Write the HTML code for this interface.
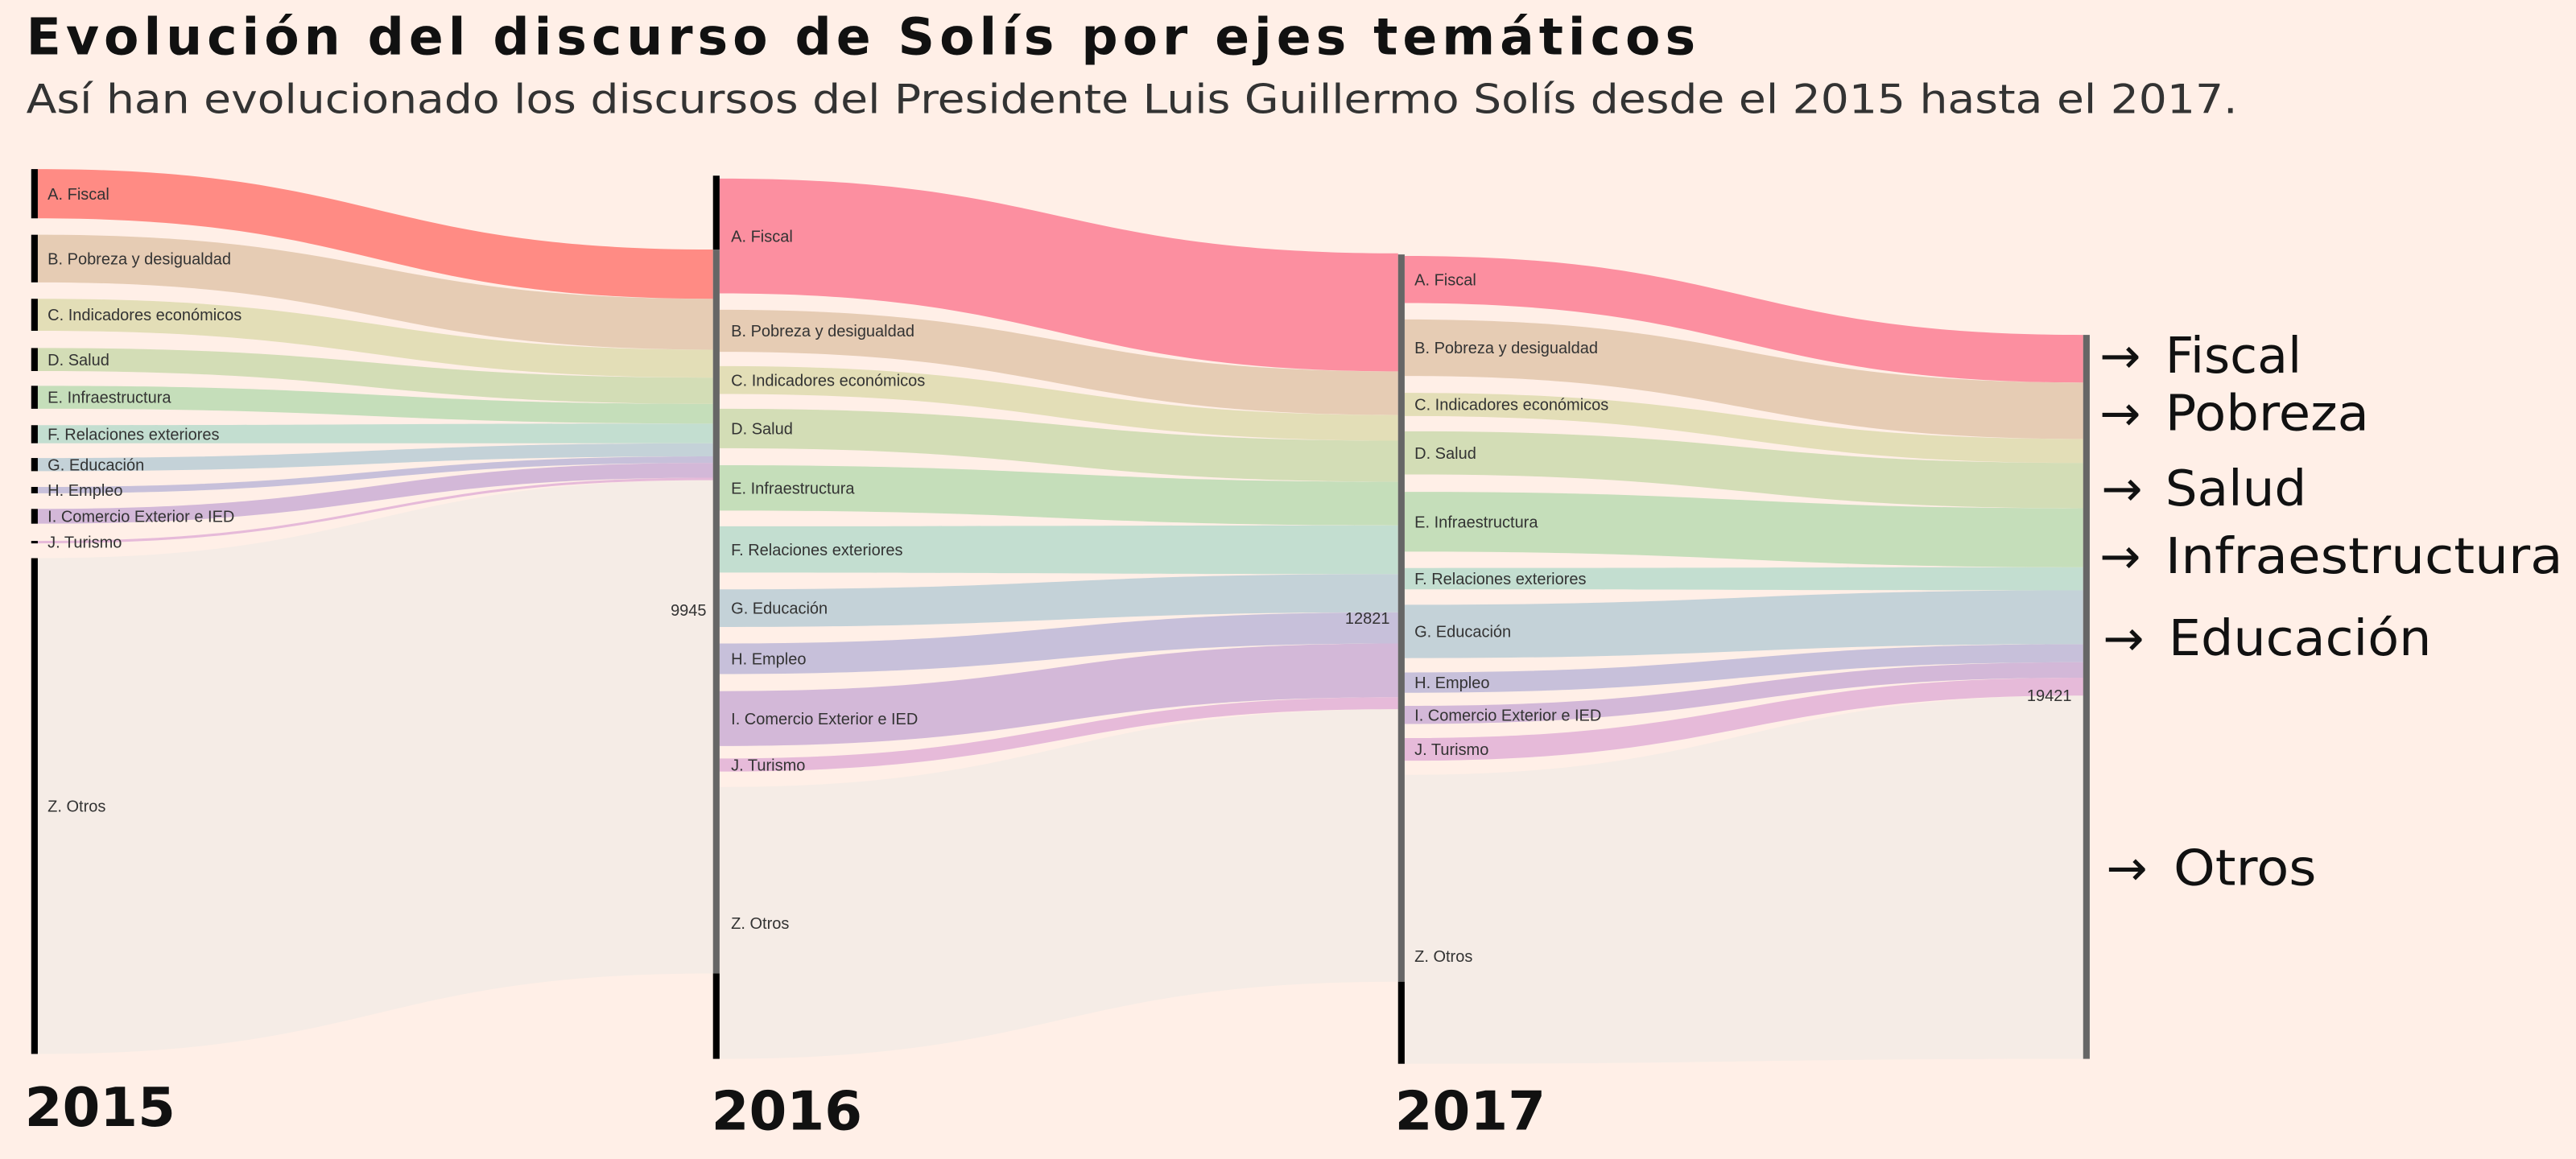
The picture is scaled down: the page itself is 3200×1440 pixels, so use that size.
<!DOCTYPE html>
<html><head><meta charset="utf-8"><style>
html,body{margin:0;padding:0;background:#ffefe7;}
svg{display:block}
</style></head><body>
<svg id="s" width="3200" height="1440" viewBox="0 0 1568 706" preserveAspectRatio="none" xmlns="http://www.w3.org/2000/svg">
<rect width="1568" height="706" fill="#ffefe7"/>
<g id="flows"></g>
<g id="bars"></g>
<g id="labels" font-family="Liberation Sans, sans-serif" font-size="9.8" fill="#333"></g>
<text x="16" y="33" font-family="DejaVu Sans, sans-serif" font-weight="bold" font-size="31" fill="#111" textLength="1016" lengthAdjust="spacing">Evolución del discurso de Solís por ejes temáticos</text>
<text x="16" y="69" font-family="DejaVu Sans, sans-serif" font-size="24.5" fill="#333" textLength="1346" lengthAdjust="spacingAndGlyphs">Así han evolucionado los discursos del Presidente Luis Guillermo Solís desde el 2015 hasta el 2017.</text>
<g font-family="DejaVu Sans, sans-serif" font-weight="bold" font-size="33" fill="#111">
<text x="15" y="686">2015</text><text x="433" y="688">2016</text><text x="849" y="688">2017</text>
</g>
<g font-family="DejaVu Sans, sans-serif" font-size="30" fill="#111">
<text x="1278" y="227">→</text><text x="1318" y="227" textLength="83" lengthAdjust="spacingAndGlyphs">Fiscal</text>
<text x="1278" y="262">→</text><text x="1318" y="262" textLength="124" lengthAdjust="spacingAndGlyphs">Pobreza</text>
<text x="1279" y="308">→</text><text x="1318" y="308" textLength="86" lengthAdjust="spacingAndGlyphs">Salud</text>
<text x="1278" y="349">→</text><text x="1318" y="349" textLength="242" lengthAdjust="spacingAndGlyphs">Infraestructura</text>
<text x="1280" y="399">→</text><text x="1320" y="399" textLength="160" lengthAdjust="spacingAndGlyphs">Educación</text>
<text x="1282" y="539">→</text><text x="1323" y="539" textLength="87" lengthAdjust="spacingAndGlyphs">Otros</text>
</g>
<g font-family="Liberation Sans, sans-serif" font-size="9.8" fill="#333" text-anchor="end">
<text x="430" y="375">9945</text><text x="846" y="380">12821</text><text x="1261" y="427">19421</text>
</g>
</svg>
<script>
var ns="http://www.w3.org/2000/svg";
var cols=["#fc8fa0","#e6ccb4","#e3deb7","#d3ddb6","#c5deba","#c3ded0","#c4d2d8","#c7c0da","#d3b8d8","#e6bad9","#f5ece6"];
var names=["A. Fiscal","B. Pobreza y desigualdad","C. Indicadores económicos","D. Salud","E. Infraestructura","F. Relaciones exteriores","G. Educación","H. Empleo","I. Comercio Exterior e IED","J. Turismo","Z. Otros"];
var n15=[[103,133],[143,172],[182,201.5],[212,226],[235,249],[259,270],[279,287],[296.6,300.5],[310,319],[329.5,331],[340,642]];
var in16=[[152,182],[182,213],[213,230],[230,246],[246,258],[258,270],[270,278],[278,282],[282,291],[291,292.5],[292.5,593]];
var n16=[[108.8,178.7],[188.7,214.3],[223,240],[249,273],[283.4,311],[320.6,348.8],[359,381.9],[392,410.6],[421,454.4],[462,470],[479.4,645]];
var in17=[[154.3,226.2],[226.2,252.8],[252.8,268.4],[268.4,293.4],[293.4,320],[320,349.7],[349.7,373],[373,392],[392,424.7],[424.7,432],[432,598]];
var n17=[[155.9,184.6],[194.6,229],[239.3,253.4],[262.7,289],[299.6,336],[346,359],[368.4,400.9],[409.6,422],[430,441],[449.6,463.4],[472,648]];
var in18=[[204,233],[233,267.4],[267.4,282],[282,309.6],[309.6,345.5],[345.5,359.6],[359.6,392.4],[392.4,403.4],[403.4,412.8],[412.8,423.7],[423.7,645]];
var F=document.getElementById("flows"),B=document.getElementById("bars"),L=document.getElementById("labels");
function flow(x0,a,x1,b,c){var m=(x0+x1)/2;var d="M"+x0+","+a[0]+" C"+m+","+a[0]+" "+m+","+b[0]+" "+x1+","+b[0]+" L"+x1+","+b[1]+" C"+m+","+b[1]+" "+m+","+a[1]+" "+x0+","+a[1]+"Z";
var p=document.createElementNS(ns,"path");p.setAttribute("d",d);p.setAttribute("fill",c);F.appendChild(p);}
function rect(x,y0,y1,w,c,g){var r=document.createElementNS(ns,"rect");r.setAttribute("x",x);r.setAttribute("y",y0);r.setAttribute("width",w);r.setAttribute("height",Math.max(0.8,y1-y0));r.setAttribute("fill",c);g.appendChild(r);}
function txt(x,y,s){var t=document.createElementNS(ns,"text");t.setAttribute("x",x);t.setAttribute("y",y);t.textContent=s;L.appendChild(t);}
for(var i=10;i>=0;i--){
 flow(23,n15[i],434,in16[i],i==0?"#ff8b84":cols[i]);
 flow(438,n16[i],851,in17[i],cols[i]);
 flow(855,n17[i],1268,in18[i],cols[i]);
}
for(var i=0;i<11;i++){
 rect(19,n15[i][0],n15[i][1],4,"#000",B);
 txt(29,(n15[i][0]+n15[i][1])/2+3.5,names[i]);
 txt(445,(n16[i][0]+n16[i][1])/2+3.5,names[i]);
 txt(861,i==10?586:(n17[i][0]+n17[i][1])/2+3.5,names[i]);
}
rect(434,107,152,4,"#000",B);rect(434,152,593,4,"#666",B);rect(434,593,645,4,"#000",B);
rect(851,155,598,4,"#666",B);rect(851,598,648,4,"#000",B);
rect(1268,204,645,4,"#666",B);
</script>
</body></html>
